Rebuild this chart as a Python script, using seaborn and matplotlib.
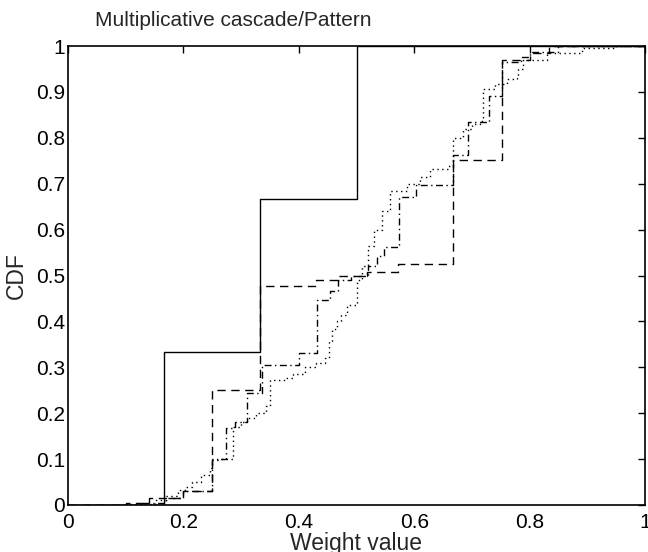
import matplotlib
matplotlib.use("Agg")
import matplotlib.pyplot as plt
import seaborn as sns
import pandas as pd

# ---- data ----
solid_x = [0.0, 1/6, 1/3, 1/2, 1.0]
solid_y = [0.0, 1/3, 2/3, 1.0, 1.0]

dashed_x = [0.0, 0.10, 0.14, 0.20, 0.25, 0.333, 0.43, 0.47, 0.518, 0.572, 0.667, 0.753, 0.80, 0.833, 1.0]
dashed_y = [0.0, 0.005, 0.015, 0.03, 0.251, 0.478, 0.49, 0.50, 0.507, 0.526, 0.752, 0.97, 0.985, 1.0, 1.0]

dashdot_x = [0.0, 0.12, 0.17, 0.20, 0.25, 0.262, 0.274, 0.29, 0.31, 0.336, 0.40, 0.431, 0.454, 0.468,
             0.49, 0.52, 0.535, 0.547, 0.574, 0.603, 0.667, 0.693, 0.73, 0.753, 0.785, 0.80, 0.85, 1.0]
dashdot_y = [0.0, 0.005, 0.015, 0.03, 0.098, 0.10, 0.168, 0.18, 0.245, 0.304, 0.332, 0.447, 0.466, 0.49,
             0.50, 0.52, 0.542, 0.562, 0.67, 0.697, 0.762, 0.834, 0.891, 0.965, 0.976, 0.987, 1.0, 1.0]

dotted_x = [0.0, 0.10, 0.15, 0.17, 0.19, 0.203, 0.215, 0.23, 0.246, 0.25, 0.286, 0.30, 0.31, 0.325, 0.344,
            0.35, 0.376, 0.39, 0.41, 0.43, 0.445, 0.452, 0.458, 0.466, 0.474, 0.484, 0.50, 0.51, 0.52,
            0.53, 0.545, 0.558, 0.587, 0.61, 0.627, 0.659, 0.668, 0.685, 0.70, 0.714, 0.719, 0.74, 0.76,
            0.778, 0.78, 0.788, 0.83, 0.89, 0.95, 1.0]
dotted_y = [0.0, 0.003, 0.01, 0.02, 0.032, 0.04, 0.05, 0.065, 0.08, 0.10, 0.171, 0.18, 0.19, 0.20, 0.215,
            0.273, 0.277, 0.285, 0.30, 0.31, 0.321, 0.357, 0.384, 0.40, 0.413, 0.436, 0.49, 0.52, 0.564,
            0.60, 0.64, 0.684, 0.699, 0.715, 0.731, 0.739, 0.80, 0.82, 0.83, 0.837, 0.906, 0.918, 0.928,
            0.935, 0.95, 0.97, 0.985, 0.995, 0.999, 1.0]

x_ticks = [0, 0.2, 0.4, 0.6, 0.8, 1]
x_tick_labels = ["0", "0.2", "0.4", "0.6", "0.8", "1"]
y_ticks = [0, 0.1, 0.2, 0.3, 0.4, 0.5, 0.6, 0.7, 0.8, 0.9, 1]
y_tick_labels = ["0", "0.1", "0.2", "0.3", "0.4", "0.5", "0.6", "0.7", "0.8", "0.9", "1"]

title = "Multiplicative cascade/Pattern"
xlabel = "Weight value"
ylabel = "CDF"

# ---- style ----
sns.set_style("white")
plt.rcParams["font.family"] = ["Liberation Sans", "DejaVu Sans"]

fig = plt.figure(figsize=(6.48, 5.52), dpi=100)
ax = fig.add_axes([68/648, 1 - 505/552, (645 - 68)/648, (505 - 46)/552])

series = [
    (solid_x, solid_y, dict(linestyle="-")),
    (dashed_x, dashed_y, dict(dashes=(6, 4))),
    (dashdot_x, dashdot_y, dict(dashes=(5, 2.5, 1, 2.5))),
    (dotted_x, dotted_y, dict(dashes=(1, 2.5))),
]
for xs, ys, st in series:
    df = pd.DataFrame({"x": xs, "y": ys})
    sns.lineplot(data=df, x="x", y="y", ax=ax, color="black", linewidth=1.0,
                 estimator=None, sort=False, drawstyle="steps-post")
    l = ax.lines[-1]
    if "dashes" in st:
        l.set_dashes(st["dashes"])
    else:
        l.set_linestyle(st["linestyle"])

ax.set_xlim(0, 1)
ax.set_ylim(0, 1)
ax.set_xticks(x_ticks)
ax.set_xticklabels(x_tick_labels)
ax.set_yticks(y_ticks)
ax.set_yticklabels(y_tick_labels)
ax.tick_params(direction="in", length=5, width=1, top=True, right=True,
               labelsize=15, colors="black")
ax.tick_params(axis="x", pad=6)
ax.tick_params(axis="y", pad=2)
for s in ax.spines.values():
    s.set_visible(True)
    s.set_color("black")
    s.set_linewidth(1.2)

ax.set_xlabel(xlabel, fontsize=16.5, labelpad=0)
ax.set_ylabel(ylabel, fontsize=16.5, labelpad=6)
fig.text(95/648, 1 - 21/552, title, fontsize=15, ha="left", va="center")

fig.savefig("out.png", dpi=100)
